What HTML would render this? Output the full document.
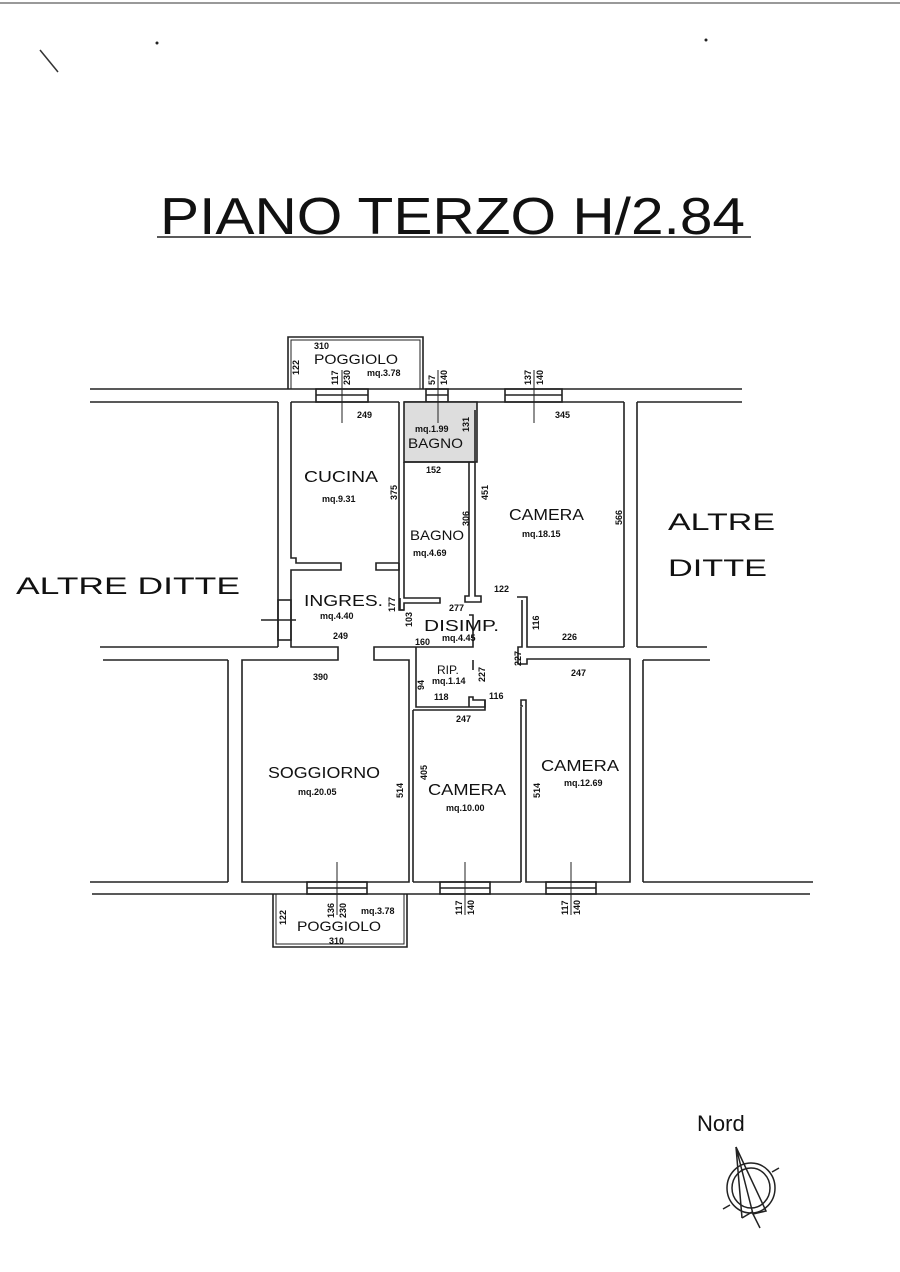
<!DOCTYPE html>
<html><head><meta charset="utf-8"><style>
html,body{margin:0;padding:0;background:#fff;}
svg{display:block}
text{font-family:"Liberation Sans",sans-serif;fill:#111}
.t text{font-family:"Liberation Sans",sans-serif}
</style></head><body>
<svg width="900" height="1272" viewBox="0 0 900 1272" xmlns="http://www.w3.org/2000/svg">
<rect width="900" height="1272" fill="#fff"/>
<line x1="0" y1="3" x2="900" y2="3" stroke="#999" stroke-width="2"/>
<line x1="40" y1="50" x2="58" y2="72" stroke="#333" stroke-width="1.5"/>
<circle cx="157" cy="43" r="1.5" fill="#222"/><circle cx="706" cy="40" r="1.5" fill="#222"/>
<text x="160" y="234" font-size="52" textLength="585" lengthAdjust="spacingAndGlyphs" fill="#444">PIANO TERZO H/2.84</text>
<line x1="157" y1="237" x2="751" y2="237" stroke="#222" stroke-width="1.5"/>

<g stroke="#222" stroke-width="1.6" fill="none">
<line x1="90" y1="389" x2="742" y2="389"/>
<line x1="90" y1="402" x2="278" y2="402"/>
<line x1="291" y1="402" x2="399" y2="402"/>
<line x1="404" y1="402" x2="477" y2="402"/>
<line x1="477" y1="402" x2="624" y2="402"/>
<line x1="637" y1="402" x2="742" y2="402"/>
<polyline points="288,389 288,337 423,337 423,389"/>
<polyline points="291,389 291,340 420,340 420,389" stroke-width="1"/>
<rect x="316" y="389" width="52" height="13"/><line x1="316" y1="395" x2="368" y2="395"/>
<rect x="426" y="389" width="22" height="13"/><line x1="426" y1="395" x2="448" y2="395"/>
<rect x="505" y="389" width="57" height="13"/><line x1="505" y1="395" x2="562" y2="395"/>
<line x1="278" y1="402" x2="278" y2="647"/>
<line x1="100" y1="647" x2="278" y2="647"/>
<line x1="103" y1="660" x2="228" y2="660"/>
<line x1="228" y1="660" x2="228" y2="882"/>
<line x1="90" y1="882" x2="228" y2="882"/>
<polyline points="291,402 291,558 296,558 296,563 341,563 341,570 291,570 291,647 338,647 338,660 242,660 242,882 409,882 409,660 374,660 374,647 473,647 473,615 469,615"/>
<polyline points="399,402 399,570 376,570 376,563 399,563"/>
<polyline points="399,563 399,610 404,610"/>
<rect x="278" y="600" width="13" height="40"/>
<line x1="261" y1="620" x2="296" y2="620"/>
<rect x="404" y="402" width="73" height="60" fill="#ddd"/>
<line x1="404" y1="462" x2="474" y2="462"/>
<polyline points="404,462 404,598 440,598 440,603 404,603 404,610 400,610 400,598"/>
<polyline points="469,462 469,596 465,596 465,602 481,602 481,596 475,596 475,410"/>
<line x1="624" y1="402" x2="624" y2="647"/>
<polyline points="517,597 527,597 527,647 624,647"/>
<polyline points="522,600 522,647 518,647 518,664 527,664 527,659 630,659 630,882 526,882 526,700 521,700 521,706 523,706"/>
<polyline points="416,647 416,707 485,707 485,700 473,700 473,697 469,697 469,707"/>
<polyline points="473,660 473,670"/>
<line x1="413" y1="710" x2="413" y2="882"/>
<polyline points="413,710 485,710 485,700"/>
<line x1="521" y1="707" x2="521" y2="882"/>
<line x1="413" y1="882" x2="521" y2="882"/>
<line x1="637" y1="402" x2="637" y2="647"/>
<line x1="637" y1="647" x2="707" y2="647"/>
<line x1="643" y1="660" x2="710" y2="660"/>
<line x1="643" y1="660" x2="643" y2="882"/>
<line x1="643" y1="882" x2="813" y2="882"/>
<line x1="92" y1="894" x2="810" y2="894"/>
<rect x="307" y="882" width="60" height="12"/><line x1="307" y1="888" x2="367" y2="888"/>
<rect x="440" y="882" width="50" height="12"/><line x1="440" y1="888" x2="490" y2="888"/>
<rect x="546" y="882" width="50" height="12"/><line x1="546" y1="888" x2="596" y2="888"/>
<polyline points="273,894 273,947 407,947 407,894"/>
<polyline points="276,894 276,944 404,944 404,894" stroke-width="1"/>
<line x1="342" y1="370" x2="342" y2="423" stroke-width="1"/>
<line x1="438" y1="370" x2="438" y2="423" stroke-width="1"/>
<line x1="534" y1="370" x2="534" y2="423" stroke-width="1"/>
<line x1="337" y1="862" x2="337" y2="915" stroke-width="1"/>
<line x1="465" y1="862" x2="465" y2="915" stroke-width="1"/>
<line x1="571" y1="862" x2="571" y2="915" stroke-width="1"/>
</g>

<g class="t" fill="#222">
<text x="16" y="594" font-size="24" textLength="224" lengthAdjust="spacingAndGlyphs">ALTRE DITTE</text>
<text x="668" y="530" font-size="24" textLength="107" lengthAdjust="spacingAndGlyphs">ALTRE</text>
<text x="668" y="576" font-size="24" textLength="99" lengthAdjust="spacingAndGlyphs">DITTE</text>
<text x="314" y="364" font-size="14" textLength="84" lengthAdjust="spacingAndGlyphs">POGGIOLO</text>
<text x="304" y="482" font-size="16" textLength="74" lengthAdjust="spacingAndGlyphs">CUCINA</text>
<text x="408" y="448" font-size="14" textLength="55" lengthAdjust="spacingAndGlyphs">BAGNO</text>
<text x="410" y="540" font-size="14" textLength="54" lengthAdjust="spacingAndGlyphs">BAGNO</text>
<text x="509" y="520" font-size="16" textLength="75" lengthAdjust="spacingAndGlyphs">CAMERA</text>
<text x="304" y="606" font-size="16" textLength="79" lengthAdjust="spacingAndGlyphs">INGRES.</text>
<text x="424" y="631" font-size="16" textLength="75" lengthAdjust="spacingAndGlyphs">DISIMP.</text>
<text x="437" y="674" font-size="12">RIP.</text>
<text x="268" y="778" font-size="16" textLength="112" lengthAdjust="spacingAndGlyphs">SOGGIORNO</text>
<text x="428" y="795" font-size="16" textLength="78" lengthAdjust="spacingAndGlyphs">CAMERA</text>
<text x="541" y="771" font-size="16" textLength="78" lengthAdjust="spacingAndGlyphs">CAMERA</text>
<text x="297" y="931" font-size="14" textLength="84" lengthAdjust="spacingAndGlyphs">POGGIOLO</text>
</g>
<g font-size="9" font-weight="bold">
<text x="314" y="349">310</text>
<text x="367" y="376">mq.3.78</text>
<text x="357" y="418">249</text>
<text x="555" y="418">345</text>
<text x="415" y="432">mq.1.99</text>
<text x="426" y="473">152</text>
<text x="322" y="502">mq.9.31</text>
<text x="413" y="556">mq.4.69</text>
<text x="522" y="537">mq.18.15</text>
<text x="494" y="592">122</text>
<text x="449" y="611">277</text>
<text x="320" y="619">mq.4.40</text>
<text x="333" y="639">249</text>
<text x="415" y="645">160</text>
<text x="442" y="641">mq.4.45</text>
<text x="562" y="640">226</text>
<text x="313" y="680">390</text>
<text x="571" y="676">247</text>
<text x="432" y="684">mq.1.14</text>
<text x="434" y="700">118</text>
<text x="489" y="699">116</text>
<text x="456" y="722">247</text>
<text x="298" y="795">mq.20.05</text>
<text x="446" y="811">mq.10.00</text>
<text x="564" y="786">mq.12.69</text>
<text x="361" y="914">mq.3.78</text>
<text x="329" y="944">310</text>
</g>
<g font-size="9" font-weight="bold">
<text transform="translate(299,375) rotate(-90)">122</text>
<text transform="translate(338,385) rotate(-90)">117</text>
<text transform="translate(350,385) rotate(-90)">230</text>
<text transform="translate(435,385) rotate(-90)">57</text>
<text transform="translate(447,385) rotate(-90)">140</text>
<text transform="translate(531,385) rotate(-90)">137</text>
<text transform="translate(543,385) rotate(-90)">140</text>
<text transform="translate(469,432) rotate(-90)">131</text>
<text transform="translate(397,500) rotate(-90)">375</text>
<text transform="translate(469,526) rotate(-90)">306</text>
<text transform="translate(488,500) rotate(-90)">451</text>
<text transform="translate(622,525) rotate(-90)">566</text>
<text transform="translate(395,612) rotate(-90)">177</text>
<text transform="translate(412,627) rotate(-90)">103</text>
<text transform="translate(539,630) rotate(-90)">116</text>
<text transform="translate(521,666) rotate(-90)">227</text>
<text transform="translate(485,682) rotate(-90)">227</text>
<text transform="translate(424,690) rotate(-90)">94</text>
<text transform="translate(403,798) rotate(-90)">514</text>
<text transform="translate(427,780) rotate(-90)">405</text>
<text transform="translate(540,798) rotate(-90)">514</text>
<text transform="translate(334,918) rotate(-90)">136</text>
<text transform="translate(346,918) rotate(-90)">230</text>
<text transform="translate(286,925) rotate(-90)">122</text>
<text transform="translate(462,915) rotate(-90)">117</text>
<text transform="translate(474,915) rotate(-90)">140</text>
<text transform="translate(568,915) rotate(-90)">117</text>
<text transform="translate(580,915) rotate(-90)">140</text>
</g>
<text x="697" y="1131" font-size="22">Nord</text>
<g stroke="#222" stroke-width="1.5" fill="none">
<ellipse cx="751" cy="1188" rx="24" ry="25"/>
<ellipse cx="751" cy="1188" rx="19" ry="20"/>
<polyline points="736,1147 753,1214 766,1211 736,1147"/>
<line x1="736" y1="1147" x2="742" y2="1218"/>
<line x1="753" y1="1214" x2="760" y2="1228"/>
<line x1="772" y1="1172" x2="779" y2="1168"/>
<line x1="730" y1="1205" x2="723" y2="1209"/>
<line x1="742" y1="1218" x2="752" y2="1212"/>
</g>
</svg>
</body></html>
